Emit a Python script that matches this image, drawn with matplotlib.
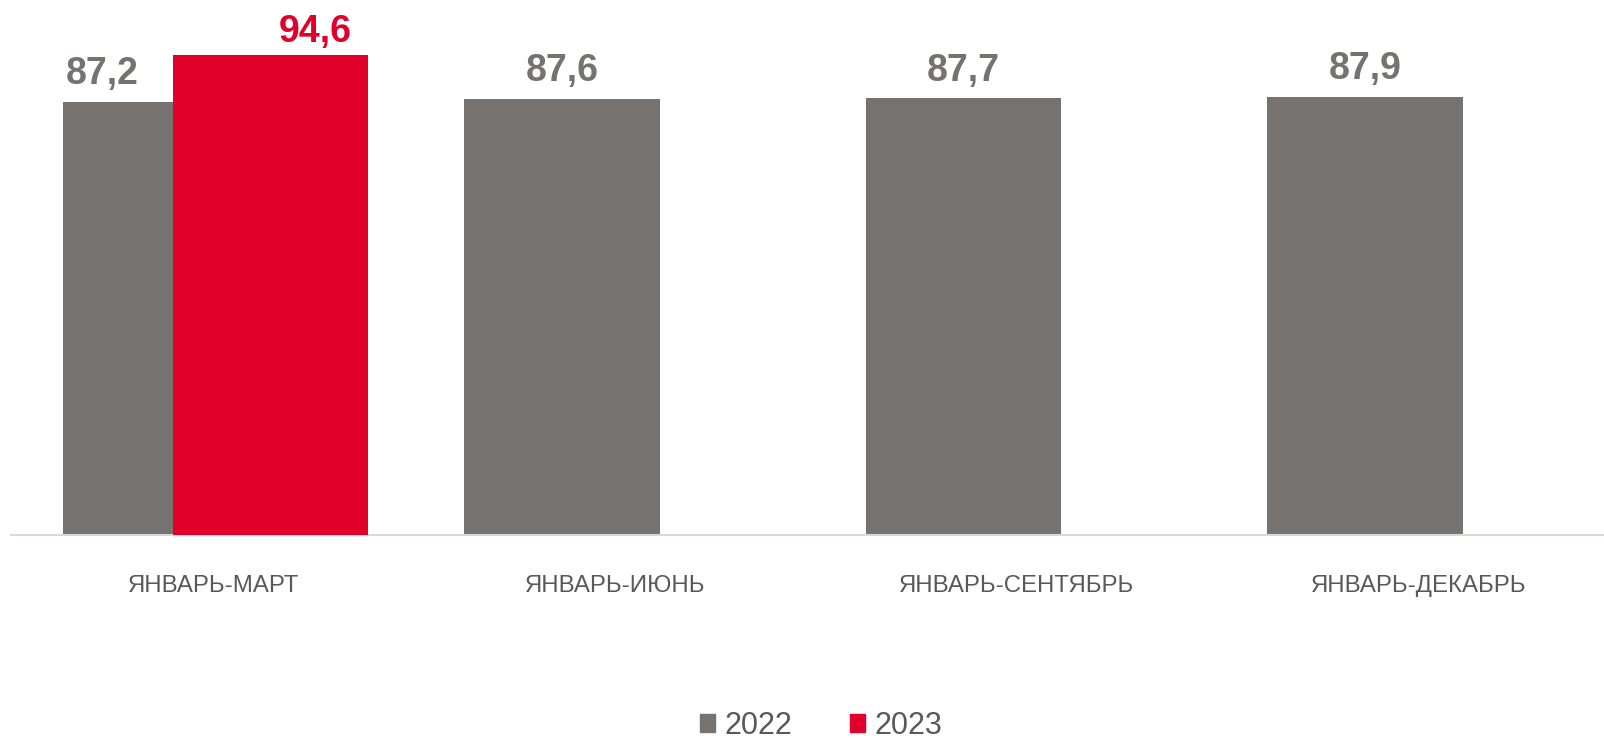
import matplotlib.pyplot as plt
from matplotlib.patches import Patch

# data
periods = ["ЯНВАРЬ-МАРТ", "ЯНВАРЬ-ИЮНЬ", "ЯНВАРЬ-СЕНТЯБРЬ", "ЯНВАРЬ-ДЕКАБРЬ"]
vals_2022 = [87.2, 87.6, 87.7, 87.9]
vals_2023 = [94.6]
labels_2022 = ["87,2", "87,6", "87,7", "87,9"]
labels_2023 = ["94,6"]

gray = "#767270"
red = "#E0002A"
txt = "#595959"

plt.rcParams['font.family'] = ['Liberation Sans', 'DejaVu Sans']

fig = plt.figure(figsize=(16.04, 7.41), dpi=100)
ax = fig.add_axes([11 / 1604, 206 / 741, 1 - 11 / 1604, 535 / 741])

x = list(range(len(periods)))
w = 0.486
ax.bar(x, vals_2022, width=w, color=gray, linewidth=0, zorder=2)
x23 = [i + 0.274 for i in range(len(vals_2023))]
ax.bar(x23, vals_2023, width=w, color=red, linewidth=0, zorder=3)

# value labels
offs = [-42, 0, 0, 0]
for i, (v, s) in enumerate(zip(vals_2022, labels_2022)):
    ax.annotate(s, (x[i], v), xytext=(offs[i], 7), textcoords="offset points",
                ha="center", va="bottom", fontsize=27, fontweight="bold", color=gray)
for i, (v, s) in enumerate(zip(vals_2023, labels_2023)):
    ax.annotate(s, (x23[i], v), xytext=(32, 3), textcoords="offset points",
                ha="center", va="bottom", fontsize=27, fontweight="bold", color=red)

ax.set_xlim(-0.372, 3.595)
ax.set_ylim(18.9, 103.2)
# category labels sit at the centre of each (2022, 2023) pair
ax.set_xticks([i + 0.133 for i in x])
ax.set_xticklabels(periods, fontsize=17.3, color=txt)
ax.tick_params(axis="x", length=0, pad=29)
ax.set_yticks([])
for sp in ["top", "left", "right"]:
    ax.spines[sp].set_visible(False)
ax.spines["bottom"].set_color("#d9d9d9")
ax.spines["bottom"].set_linewidth(1.5)

handles = [Patch(color=gray, label="2022"), Patch(color=red, label="2023")]
fig.legend(handles=handles, loc="center", bbox_to_anchor=(821 / 1604, 15 / 741),
           ncol=2, frameon=False, fontsize=22, labelcolor=txt,
           handlelength=0.5, handleheight=0.5, handletextpad=0.3, columnspacing=1.9)

fig.savefig("out.png", dpi=100)
